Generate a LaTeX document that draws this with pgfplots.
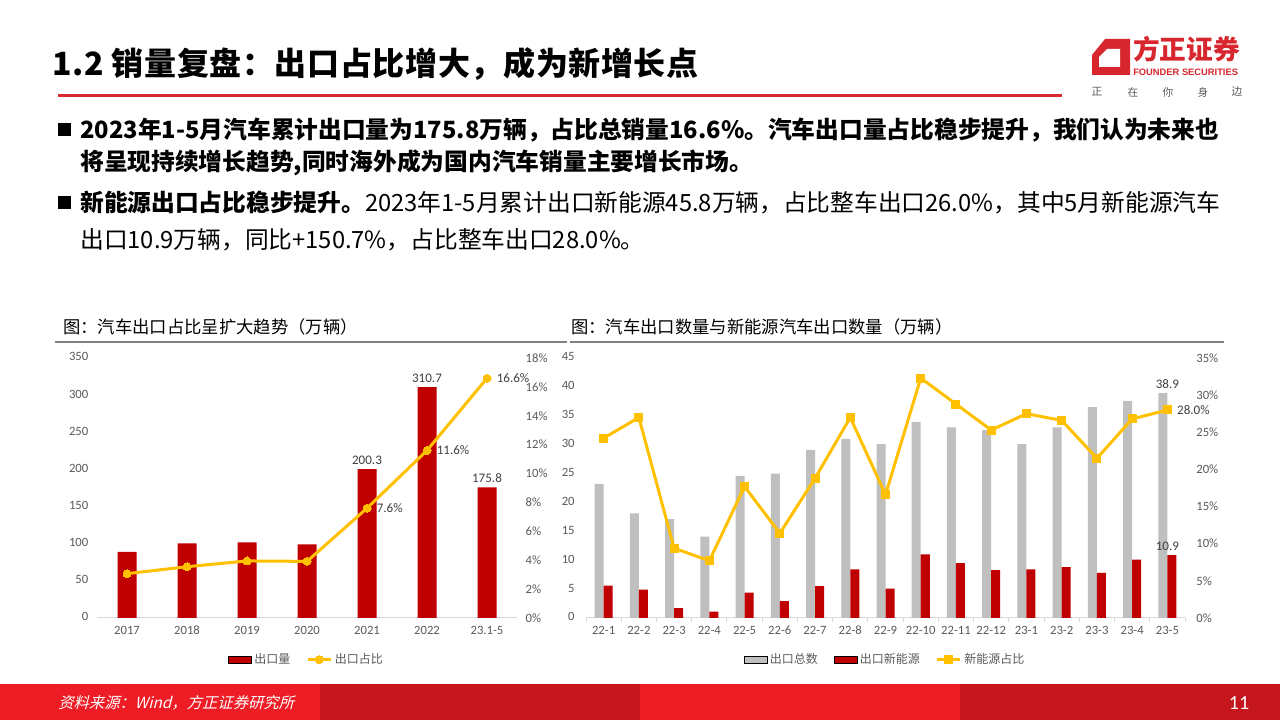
\documentclass[border=0pt]{standalone}
\usepackage{fontspec}
\usepackage{pgfplots}
\pgfplotsset{compat=1.18}
\setmainfont{Carlito}[Numbers=Lining]
\newfontfamily\cjk{Noto Sans CJK SC}
\newfontfamily\lsans{Liberation Sans}
\definecolor{barred}{HTML}{C00000}
\definecolor{lineyel}{HTML}{FFC000}
\definecolor{bargray}{HTML}{BFBFBF}
\definecolor{lblgray}{HTML}{595959}
\definecolor{axgray}{HTML}{D9D9D9}
\definecolor{txtdark}{HTML}{404040}
\definecolor{hdrred}{HTML}{D9262E}
\definecolor{ftred}{HTML}{EE1C25}
\definecolor{ftdark}{HTML}{C4161C}
\definecolor{logored}{HTML}{D7262E}
\definecolor{rulegray}{HTML}{808080}
\tikzset{lbl/.style={font=\fontsize{9.8}{11}\selectfont, text=txtdark}}
\pgfplotsset{
  common/.style={
    scale only axis, anchor=south west, height=195pt,
    axis x line*=bottom,
    x axis line style={draw=axgray, line width=0.75pt},
    y axis line style={draw=none},
    major tick length=0pt,
    tick label style={font=\fontsize{9.5}{11}\selectfont, text=lblgray},
    typeset ticklabels with strut,
    /pgf/number format/assume math mode=true,
    ymin=0, clip=false,
  },
  leg/.style={legend style={draw=none, fill=none, at={(0.5,-0.16)}, anchor=center,
     legend columns=-1, font=\cjk\fontsize{9}{10}\selectfont, text=lblgray,
     /tikz/every even column/.append style={column sep=10pt}}},
}
\begin{document}
\begin{tikzpicture}[x=0.75pt,y=0.75pt]
\useasboundingbox (0,0) rectangle (1280,720);
% header
\node[anchor=west, inner sep=0] at (52,656) {\cjk\bfseries\addfontfeature{LetterSpace=2}\fontsize{24}{28}\selectfont 1.2 销量复盘：出口占比增大，成为新增长点};
\draw[hdrred, line width=2.25pt] (58,624) -- (1062,624);
% logo
\fill[logored] (1105,681) -- (1130,681) -- (1130,645) -- (1092,645) -- (1092,665) -- cycle;
\fill[white] (1107,671) -- (1120,671) -- (1120,653) -- (1099,653) -- (1099,663) -- cycle;
\node[anchor=west, inner sep=0, text=logored] at (1133,671) {\cjk\bfseries\fontsize{20}{22}\selectfont 方正证券};
\node[anchor=west, inner sep=0, text=logored] at (1133,648) {\lsans\bfseries\fontsize{7}{8}\selectfont FOUNDER SECURITIES};
\foreach \xx/\cc in {1097/正,1133/在,1168/你,1203/身,1237/边}
  \node[inner sep=0, text=lblgray] at (\xx,628) {\cjk\fontsize{8}{9}\selectfont \cc};
% bullets
\fill[black] (58,584) rectangle (71,597);
\fill[black] (58,511) rectangle (71,524);
\node[anchor=west, inner sep=0] at (80,590) {\cjk\bfseries\fontsize{17.8}{20}\selectfont 2023年1-5月汽车累计出口量为175.8万辆，占比总销量16.6\%。汽车出口量占比稳步提升，我们认为未来也};
\node[anchor=west, inner sep=0] at (80,557) {\cjk\bfseries\fontsize{17.8}{20}\selectfont 将呈现持续增长趋势,同时海外成为国内汽车销量主要增长市场。};
\node[anchor=west, inner sep=0] at (80,517) {\cjk\fontsize{17.8}{20}\selectfont {\bfseries 新能源出口占比稳步提升。}2023年1-5月累计出口新能源45.8万辆，占比整车出口26.0\%，其中5月新能源汽车};
\node[anchor=west, inner sep=0] at (80,480) {\cjk\fontsize{17.8}{20}\selectfont 出口10.9万辆，同比+150.7\%，占比整车出口28.0\%。};
% chart titles
\node[anchor=west, inner sep=0] at (63,393) {\cjk\fontsize{13}{15}\selectfont 图：汽车出口占比呈扩大趋势（万辆）};
\node[anchor=west, inner sep=0] at (571,393) {\cjk\fontsize{13}{15}\selectfont 图：汽车出口数量与新能源汽车出口数量（万辆）};
\draw[rulegray, line width=1.5pt] (55,378) -- (567,378);
\draw[rulegray, line width=1.5pt] (570,378) -- (1224,378);
% footer
\fill[ftred] (0,0) rectangle (320,36);
\fill[ftdark] (320,0) rectangle (640,36);
\fill[ftred] (640,0) rectangle (960,36);
\fill[ftdark] (960,0) rectangle (1280,36);
\node[anchor=west, inner sep=0, text=white] at (58,17) {\cjk\addfontfeature{FakeSlant=0.25}\fontsize{11.5}{13}\selectfont 资料来源：Wind，方正证券研究所};
\node[inner sep=0, text=white] at (1239,17) {\fontsize{15}{16}\selectfont 11};

% ---------- left chart ----------
\begin{axis}[common, at={(72.75pt,76.5pt)}, width=315pt,
  xmin=-0.5, xmax=6.5, ymax=350, ytick={0,50,...,350},
  xtick={0,...,6}, xticklabels={2017,2018,2019,2020,2021,2022,23.1-5},
  axis y line*=left, yticklabel style={xshift=-3pt}, xticklabel style={yshift=-1pt}]
\addplot[ybar, bar width=14.25pt, fill=barred, draw=none,
  point meta=explicit symbolic, nodes near coords, every node near coord/.append style={lbl}]
  coordinates {(0,89.1) [] (1,100.3) [] (2,101.8) [] (3,99.0) [] (4,200.3) [200.3] (5,310.7) [310.7] (6,175.8) [175.8]};
\end{axis}
\begin{axis}[common, at={(72.75pt,76.5pt)}, width=315pt,
  xmin=-0.5, xmax=6.5, ymax=18, ytick={0,2,...,18}, axis x line=none, xtick=\empty,
  axis y line*=right, yticklabel={\pgfmathprintnumber{\tick}\%}, yticklabel style={xshift=3pt}, leg]
\addlegendimage{area legend, fill=barred, draw=none}
\addlegendentry{出口量}
\addplot[lineyel, line width=2.25pt, mark=*, mark size=3pt, mark options={fill=lineyel, draw=lineyel, line width=0pt},
  point meta=explicit symbolic, nodes near coords, nodes near coords align={anchor=west},
  every node near coord/.append style={lbl, anchor=west, xshift=4pt}]
  coordinates {(0,3.07) [] (1,3.55) [] (2,3.95) [] (3,3.92) [] (4,7.6) [7.6\%] (5,11.6) [11.6\%] (6,16.6) [16.6\%]};
\addlegendentry{出口占比}
\end{axis}

% ---------- right chart ----------
\begin{axis}[common, at={(439.5pt,76.5pt)}, width=449.25pt,
  xmin=-0.5, xmax=16.5, ymax=45, ytick={0,5,...,45},
  xtick={0,...,16}, xticklabels={22-1,22-2,22-3,22-4,22-5,22-6,22-7,22-8,22-9,22-10,22-11,22-12,23-1,23-2,23-3,23-4,23-5},
  minor xtick={-0.5,0.5,...,16.5}, minor tick length=3pt, tick align=outside,
  minor tick style={draw=axgray, line width=0.75pt},
  axis y line*=left, yticklabel style={xshift=-5pt}, xticklabel style={yshift=-1pt}]
\addplot[ybar, bar width=6.75pt, bar shift=-3.375pt, fill=bargray, draw=none,
  point meta=explicit symbolic, nodes near coords, every node near coord/.append style={lbl}]
  coordinates {(0,23.2) [] (1,18.1) [] (2,17.1) [] (3,14.1) [] (4,24.6) [] (5,25.0) [] (6,29.1) [] (7,31.0) [] (8,30.1) [] (9,33.9) [] (10,33.0) [] (11,32.5) [] (12,30.1) [] (13,33.0) [] (14,36.5) [] (15,37.6) [] (16,38.9) [38.9]};
\addplot[ybar, bar width=6.75pt, bar shift=3.375pt, fill=barred, draw=none,
  point meta=explicit symbolic, nodes near coords, every node near coord/.append style={lbl}]
  coordinates {(0,5.6) [] (1,4.9) [] (2,1.7) [] (3,1.1) [] (4,4.4) [] (5,2.9) [] (6,5.5) [] (7,8.4) [] (8,5.1) [] (9,11.0) [] (10,9.5) [] (11,8.3) [] (12,8.4) [] (13,8.8) [] (14,7.8) [] (15,10.1) [] (16,10.9) [10.9]};
\end{axis}
\begin{axis}[common, at={(439.5pt,76.5pt)}, width=449.25pt,
  xmin=-0.5, xmax=16.5, ymax=35, ytick={0,5,...,35}, axis x line=none, xtick=\empty,
  axis y line*=right, yticklabel={\pgfmathprintnumber{\tick}\%}, yticklabel style={xshift=5pt}, leg]
\addlegendimage{area legend, fill=bargray, draw=none}
\addlegendentry{出口总数}
\addlegendimage{area legend, fill=barred, draw=none}
\addlegendentry{出口新能源}
\addplot[lineyel, line width=2.25pt, mark=square*, mark size=3pt, mark options={fill=lineyel, draw=lineyel, line width=0pt},
  point meta=explicit symbolic, nodes near coords, nodes near coords align={anchor=west},
  every node near coord/.append style={lbl, anchor=west, xshift=4pt}]
  coordinates {(0,24.2) [] (1,27.0) [] (2,9.4) [] (3,7.7) [] (4,17.7) [] (5,11.4) [] (6,18.8) [] (7,27.0) [] (8,16.6) [] (9,32.3) [] (10,28.8) [] (11,25.3) [] (12,27.5) [] (13,26.6) [] (14,21.5) [] (15,26.8) [] (16,28.0) [28.0\%]};
\addlegendentry{新能源占比}
\end{axis}
\end{tikzpicture}
\end{document}
